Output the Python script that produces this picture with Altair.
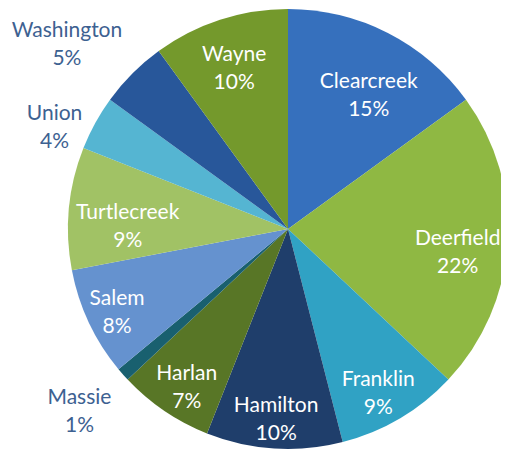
import altair as alt
import pandas as pd

names = ["Clearcreek", "Deerfield", "Franklin", "Hamilton", "Harlan", "Massie",
         "Salem", "Turtlecreek", "Union", "Washington", "Wayne"]
shares = [15, 22, 9, 10, 7, 1, 8, 9, 4, 5, 10]
colors = ["#3670bd", "#8fb843", "#30a2c4", "#1f3e6b", "#587626", "#19606f",
          "#6592cf", "#a1c265", "#55b5d2", "#28579a", "#74992c"]

df = pd.DataFrame({"name": names, "share": shares, "idx": list(range(len(names)))})

CX, CY, R = 280, 221, 220
FONT = "Lato"
OUT = "#3d6191"

theta = alt.Theta("share:Q", stack=True)
order = alt.Order("idx:Q", sort="ascending")
color = alt.Color("name:N", scale=alt.Scale(domain=names, range=colors), legend=None, sort=names)

base = alt.Chart(df).encode(theta=theta, order=order)

pie = base.mark_arc(radius=R, stroke=None).encode(
    color=color, x=alt.value(CX), y=alt.value(CY)
)


def label(name, radius, fill, dx=0, dy=0):
    return base.transform_calculate(
        lab="datum.name == '" + name + "' ? datum.name + '\\n' + datum.share + '%' : ''"
    ).mark_text(
        radius=radius, font=FONT, fontSize=21, lineBreak="\n", lineHeight=28,
        fill=fill, align="center", baseline="middle", dx=dx, dy=dy - 14
    ).encode(text="lab:N", x=alt.value(CX), y=alt.value(CY))


# label placement: (radius, dx, dy, colour)
placement = {
    "Clearcreek": (158, 9, 8, "white"),
    "Deerfield": (171, -1, 13, "white"),
    "Franklin": (189, -6, 2, "white"),
    "Hamilton": (189, 0, 2, "white"),
    "Harlan": (189, 5, 3, "white"),
    "Massie": (278, 0, -1, OUT),
    "Salem": (189, 0, 4, "white"),
    "Turtlecreek": (158, -3, 13, "white"),
    "Union": (255, -10, 22, OUT),
    "Washington": (290, -16, 21, OUT),
    "Wayne": (171, -1, 3, "white"),
}

layers = [pie] + [
    label(n, p[0], p[3], dx=p[1], dy=p[2]) for n, p in placement.items()
]

chart = alt.layer(*layers).properties(
    width=493, height=442, padding=0,
    autosize=alt.AutoSizeParams(type="none")
).configure_view(stroke=None)

chart.save("out.html", embed_options={"renderer": "svg", "actions": False})
